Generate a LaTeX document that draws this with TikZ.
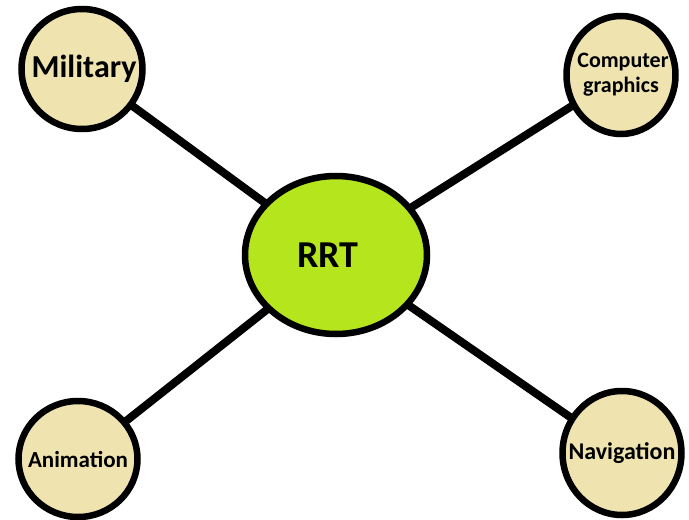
\documentclass[tikz,border=0pt]{standalone}
\usepackage{fontspec}
\setmainfont{Carlito}
\usetikzlibrary{shapes.geometric, backgrounds}

\definecolor{tanfill}{HTML}{EFE4B0}
\definecolor{limefill}{HTML}{B5E61D}

% text that does not widen its bubble
\newcommand{\slimtext}[1]{\makebox[0pt]{#1}}

\begin{document}
\begin{tikzpicture}[
    x=1pt, y=-1pt,
    % Outer application bubble
    leaf/.style={
        ellipse,
        draw=black,
        line width=6.5pt,
        fill=tanfill,
        inner sep=0pt,
        align=center,
        font=\bfseries\fontsize{22}{25}\selectfont
    },
    % Central bubble
    hub/.style={
        ellipse,
        draw=black,
        line width=6.5pt,
        fill=limefill,
        inner sep=0pt,
        minimum width=182pt,
        minimum height=158pt,
        font=\bfseries\fontsize{38}{40}\selectfont
    },
    % Spoke line
    spoke/.style={
        line width=8pt,
        black
    }
]
\useasboundingbox (0,0) rectangle (689,520);

% === Centre ===
\node[hub] (rrt) at (336, 255) {\slimtext{\hspace*{-16pt}RRT}};

% === Applications ===
\node[leaf, minimum width=121pt, minimum height=120pt,
      font=\bfseries\fontsize{32}{34}\selectfont] (military) at (82, 69) {\slimtext{\hspace*{4pt}Military}};
\node[leaf, minimum width=109pt, minimum height=118pt] (graphics) at (621, 75)
      {\slimtext{\hspace*{4pt}Computer}\\\slimtext{graphics}};
\node[leaf, minimum width=119pt, minimum height=116pt,
      font=\bfseries\fontsize{23}{25}\selectfont] (animation) at (78, 459) {\slimtext{Animation}};
\node[leaf, minimum width=119pt, minimum height=124pt,
      font=\bfseries\fontsize{24}{26}\selectfont] (navigation) at (622, 453) {\slimtext{Navigation}};

% === Spokes ===
\begin{scope}[on background layer]
\draw[spoke] (military.center) -- (rrt.center);
\draw[spoke] (graphics.center) -- (rrt.center);
\draw[spoke] (animation.center) -- (rrt.center);
\draw[spoke] (navigation.center) -- (rrt.center);
\end{scope}

\end{tikzpicture}
\end{document}
